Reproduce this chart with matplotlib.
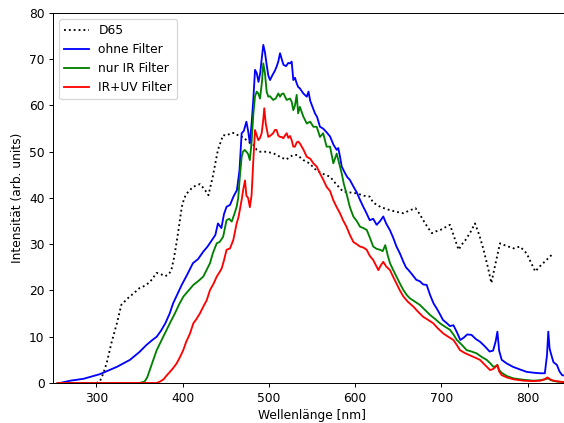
import matplotlib
matplotlib.use("Agg")
import matplotlib.pyplot as plt

# ---- data ----
d65_wl = [300, 304, 308, 312, 318, 324, 329, 337, 344, 350,
          356, 362, 366, 370, 375, 380, 384, 387, 390, 393,
          396, 399, 402, 405, 412, 420, 425, 430, 435, 441,
          447, 451, 457, 461, 466, 470, 474, 482, 486, 490,
          497, 505, 509, 514, 520, 524, 528, 533, 540, 547,
          555, 563, 571, 578, 586, 594, 602, 610, 617, 621,
          630, 640, 648, 656, 663, 670, 675, 679, 684, 689,
          694, 699, 705, 710, 715, 720, 724, 728, 734, 739,
          744, 749, 754, 758, 763, 768, 776, 784, 791, 795,
          799, 804, 809, 813, 818, 823, 828]
d65_val = [0, 0.3, 2, 4.3, 9, 13, 16.9, 18.4, 19.5, 20.5,
           21, 21.8, 22.8, 23.8, 23.5, 23.1, 23.5, 24.4, 27, 30.3,
           34, 38, 40, 41, 42.4, 43, 42, 40.6, 44.6, 50.4,
           53.6, 53.5, 54.1, 54, 53.3, 53.2, 52.5, 51.5, 50.4, 50,
           50, 49.7, 49.3, 48.8, 48.3, 48.8, 49.3, 49.3, 48.2, 47.5,
           46, 45.2, 44.6, 43, 41.4, 41.2, 41, 40.5, 40.3, 39,
           38, 37.4, 37, 36.7, 37.3, 37.8, 36.5, 35.2, 33.7, 32.4,
           32.8, 33.1, 33.7, 34.2, 31.5, 28.8, 30, 30.9, 32.7, 34.5,
           32, 28.8, 25, 21.6, 26, 30.2, 29.6, 29.1, 29.5, 28.8,
           28, 26, 24.1, 25, 25.9, 26.8, 27.7]

blue_wl = [258, 270, 285, 304, 324, 339, 350, 358, 365, 370,
           375, 380, 385, 389, 394, 399, 405, 412, 418, 424,
           429, 434, 438, 441, 445, 448, 451, 455, 459, 463,
           466, 468.5, 471, 474, 476, 478, 480, 482, 484, 486,
           488, 490, 491.7, 493.6, 495.5, 497.5, 499.4, 501.4, 504, 507,
           509, 511, 513, 515, 517, 520, 522.5, 524.6, 526.5, 528.4,
           530.3, 532.3, 534, 536, 540, 544, 546, 548, 551, 553.5,
           556, 559.3, 563, 567, 571, 575, 578.7, 580.5, 582.5, 584.5,
           588, 591, 594, 598, 602, 605.7, 609.5, 613, 617, 621,
           625, 629, 632.7, 636, 640.5, 644, 648, 652, 656, 659,
           662, 666, 671, 675, 679, 683, 687, 691, 695, 698,
           702, 706, 710, 714, 718, 722, 726, 730, 735, 740,
           745, 750, 756, 760, 763, 765, 767, 770, 776, 783,
           790, 799, 808, 815, 820, 822.5, 824, 825.5, 827, 830,
           834, 837, 840, 845]
blue_val = [0, 0.5, 0.9, 1.9, 3.5, 5, 6.7, 8.2, 9.3, 10,
            11.3, 12.9, 15, 17.2, 19.2, 21.2, 23.3, 25.9, 26.8, 28.4,
            29.5, 30.9, 32, 34.5, 33.5, 36.5, 38.1, 38.5, 40.3, 41.7,
            46, 54, 54.5, 56.5, 54.5, 51.8, 56, 61.2, 67.7, 67,
            65.1, 67, 70, 73.1, 71.5, 68.8, 66.5, 65.5, 66.5, 67.5,
            68.4, 69.5, 71.3, 70, 68.8, 68.5, 69.2, 69.1, 69.5, 65.5,
            66, 64.8, 64, 63.7, 62.6, 61.9, 63, 61, 59.5, 58.3,
            57.5, 55.4, 55, 54.2, 53.3, 51.5, 50.4, 50.8, 49, 46.8,
            45.5, 44.5, 43.9, 42.5, 41.2, 39.6, 38.1, 36.8, 35.2, 35.5,
            34.2, 35, 36, 34.5, 33, 31.5, 29.5, 28, 26.2, 25,
            24.4, 23.5, 22.3, 22, 21.3, 21.2, 19, 17.2, 16, 15,
            13.6, 13, 12.3, 12.5, 11, 9.3, 9.8, 10.5, 10.4, 9.5,
            8.9, 8, 6.8, 7, 9, 11.1, 7, 5, 4.2, 3.5,
            3, 2.4, 2.2, 2.1, 2.1, 6, 11.1, 7.5, 6.4, 4.5,
            3.9, 2.5, 1.7, 1.5]

green_wl = [255, 350, 356, 359, 362, 366, 370, 375, 381.6, 386,
            391, 396, 401, 406, 412.5, 418, 424, 428, 431.8, 435,
            439.6, 443, 447, 451, 454, 457, 460, 462.7, 464.5, 466.6,
            468.5, 470, 472, 474, 476, 478, 480, 482, 484, 486,
            487.8, 489.8, 492, 493.6, 495.5, 497.5, 499.4, 501.4, 505, 508,
            511, 513, 515, 517, 520.7, 524.6, 526.5, 528.4, 530.3, 532.3,
            534, 536, 540, 544, 548, 551.6, 555.5, 559.3, 563, 567,
            571, 574.8, 578.7, 582.5, 584.5, 587, 590, 594, 598, 602,
            605.7, 609.5, 613.5, 617, 621, 625, 629, 632, 635, 638,
            640.5, 644, 648, 652, 656, 660, 663.6, 670, 675, 681,
            687, 693, 698.5, 704, 710, 714, 718, 724, 729.4, 735,
            741, 747, 752.6, 757, 760.3, 763, 765, 767, 770, 776,
            783.5, 795, 806.7, 815, 820, 824, 827, 834, 845]
green_val = [0, 0, 0.3, 1.2, 2.8, 5, 7.1, 9, 11.5, 13.2,
             15, 17, 18.7, 19.8, 21.2, 22, 23, 24.5, 25.9, 28,
             30.2, 30.5, 31.6, 35.2, 35.5, 34.9, 36.5, 38.1, 40, 45,
             48.9, 50, 50.4, 50, 49.5, 48.2, 52, 58, 62, 63,
             62.6, 61.5, 65, 69.1, 67, 63, 61.9, 62, 61.2, 61.5,
             62.6, 61.9, 62.5, 62.6, 61.2, 61.5, 60.8, 59, 60, 62.3,
             58.3, 59.7, 57.6, 56.1, 56.5, 55.4, 55.4, 53.2, 54, 51.1,
             51.1, 47.5, 49.6, 46.8, 45.3, 43, 41, 38, 36, 35,
             33.8, 33.5, 33.1, 31.5, 29.5, 29, 28.8, 28.5, 29.8, 27.5,
             25.9, 24.5, 23, 21.5, 20.1, 19, 18.3, 17.5, 16.9, 15.8,
             14.7, 13.8, 12.9, 12.2, 11.5, 10.5, 9.3, 8.2, 7.1, 6.8,
             6.4, 5.6, 5, 4.2, 3.5, 3.6, 3.9, 2.8, 2.2, 1.5,
             1, 0.7, 0.5, 0.6, 0.8, 1, 0.6, 0.3, 0.2]

red_wl = [255, 370, 373.8, 378, 381, 385.4, 389, 393, 397, 400.8,
          404, 408.6, 412.5, 416, 420, 424, 428, 431.8, 436, 439.6,
          443, 445.4, 448, 451, 455, 458.8, 462.7, 465, 468.5, 470.5,
          472.4, 474, 476, 478, 480, 482, 484, 486, 487.8, 489.8,
          491.7, 493.6, 494.7, 496.5, 499.4, 502, 505, 507, 509, 511,
          513, 515, 516.8, 518.7, 520.7, 522.6, 524.6, 526.5, 528.4, 530.3,
          532.3, 534, 536, 540, 544, 548, 551.6, 555.5, 559.3, 563,
          567, 571, 574.8, 578.7, 582.5, 586, 590, 594, 598, 602,
          605.7, 609.5, 613.5, 617, 621, 624, 627, 630, 632.7, 636,
          640.5, 644, 648, 652, 656, 661, 667.6, 673, 679, 685,
          690.7, 696, 702.3, 708, 714, 718, 721.6, 727, 733, 739,
          744.8, 750, 756.4, 760, 763, 765, 767, 770, 776, 783.5,
          795, 806.7, 815, 820, 823, 826, 830, 840, 845]
red_val = [0, 0, 0.3, 0.8, 1.5, 2.4, 3.2, 4.2, 5.6, 7.1,
           8.8, 10.7, 12.9, 13.8, 15, 16.5, 17.9, 20.1, 21.5, 23,
           24, 24.8, 26.5, 28.8, 29.1, 30.9, 34.5, 36, 39.6, 42,
           43.8, 40.5, 40, 38, 40.6, 48, 54.7, 53.5, 52.5, 53,
           54, 57, 59.4, 56, 53.2, 53.5, 54, 54.7, 54.7, 53.5,
           53.2, 53.2, 52.9, 53.5, 54, 53, 53.4, 52.5, 51.1, 51.1,
           52, 52.2, 51.8, 50.5, 48.9, 48.5, 47.5, 46.8, 45.3, 44,
           42.4, 41.5, 39.5, 38, 36.7, 35.2, 33.8, 32, 30.5, 30,
           29.5, 29.3, 28.8, 27.5, 26.6, 25.5, 24.4, 25.5, 26.2, 25.2,
           24.4, 23, 21.5, 20, 18.7, 17.6, 16.5, 15.4, 14.3, 13.6,
           12.9, 11.8, 10.7, 10, 9.3, 8.2, 7.1, 6.5, 6, 5.5,
           5, 4, 2.8, 3, 3.5, 3.9, 2.5, 1.7, 1.2, 0.8,
           0.5, 0.4, 0.5, 0.8, 1.2, 0.8, 0.5, 0.2, 0.1]

labels = ["D65", "ohne Filter", "nur IR Filter", "IR+UV Filter"]
xlabel = "Wellenlänge [nm]"
ylabel = "Intensität (arb. units)"

# ---- figure ----
fig = plt.figure(figsize=(6.4, 4.8), dpi=88.125)
ax = fig.add_axes([0.0943, 0.0946, 0.9176, 0.8747])

ax.plot(d65_wl, d65_val, "k:", lw=1.5, label=labels[0])
ax.plot(blue_wl, blue_val, color="b", lw=1.5, label=labels[1])
ax.plot(green_wl, green_val, color="g", lw=1.5, label=labels[2])
ax.plot(red_wl, red_val, color="r", lw=1.5, label=labels[3])

ax.set_xlim(250, 850)
ax.set_ylim(0, 80)
ax.set_xticks([300, 400, 500, 600, 700, 800])
ax.set_xlabel(xlabel)
ax.set_ylabel(ylabel)
ax.legend(loc="upper left")

fig.savefig("out.png", dpi=88.125)
